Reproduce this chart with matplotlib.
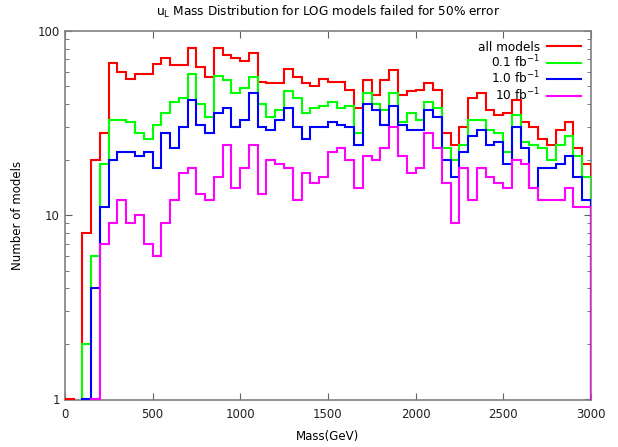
import numpy as np
import matplotlib
matplotlib.use("Agg")
import matplotlib.pyplot as plt
from matplotlib.ticker import LogLocator, NullFormatter, FixedLocator

# bin edges: 60 bins of 50 GeV from 0 to 3000
edges = np.arange(0, 3001, 50)

all_models = [1, 0, 8, 20, 28, 67, 60, 55, 58, 58,
              66, 71, 65, 65, 81, 64, 56, 81, 74, 71,
              69, 76, 53, 52, 52, 62, 56, 52, 50, 55,
              53, 53, 48, 38, 54, 45, 54, 61, 45, 47,
              48, 52, 48, 28, 24, 30, 43, 46, 37, 35,
              36, 42, 32, 30, 26, 24, 29, 32, 23, 19]

lumi_01 = [0, 0, 2, 6, 19, 33, 33, 32, 28, 26,
           31, 36, 41, 43, 58, 40, 34, 57, 54, 46,
           49, 56, 40, 34, 37, 47, 43, 36, 38, 39,
           41, 38, 39, 28, 46, 40, 37, 46, 32, 36,
           33, 41, 38, 23, 20, 24, 33, 33, 29, 28,
           22, 35, 25, 24, 23, 20, 24, 27, 21, 16]

lumi_1 = [0, 0, 1, 4, 11, 20, 22, 22, 21, 22,
          18, 28, 23, 30, 42, 31, 28, 36, 38, 30,
          33, 46, 30, 29, 33, 38, 30, 26, 30, 30,
          32, 31, 30, 24, 40, 37, 31, 39, 31, 29,
          29, 37, 34, 20, 16, 22, 27, 29, 24, 25,
          19, 30, 23, 14, 18, 18, 19, 21, 16, 12]

lumi_10 = [0, 0, 0, 1, 7, 9, 12, 9, 10, 7,
           6, 9, 12, 17, 18, 13, 12, 16, 24, 14,
           18, 24, 13, 20, 19, 18, 12, 17, 15, 16,
           22, 23, 20, 14, 21, 20, 23, 30, 21, 17,
           18, 28, 23, 15, 9, 18, 12, 18, 16, 15,
           14, 20, 19, 14, 12, 12, 12, 14, 11, 11]

labels = ["all models", "0.1 fb$^{-1}$", "1.0 fb$^{-1}$", "10 fb$^{-1}$"]
colors = ["#ff0000", "#00ff00", "#0000ff", "#ff00ff"]

fig = plt.figure(figsize=(6.18, 4.47), dpi=100)
ax = fig.add_axes([0.105, 0.105, 0.851, 0.826])
ax.set_yscale("log", nonpositive="clip")

for vals, lab, col in zip([all_models, lumi_01, lumi_1, lumi_10], labels, colors):
    v = np.array(vals, dtype=float)
    v[v <= 0] = 1e-3  # empty bins go below the axis
    ax.stairs(v, edges, baseline=1e-3, color=col, lw=1.5, label=lab, zorder=3)

ax.set_xlim(0, 3000)
ax.set_ylim(0.99, 100)  # tiny margin so bins with 1 entry stay visible
ax.xaxis.set_major_locator(FixedLocator([0, 500, 1000, 1500, 2000, 2500, 3000]))
ax.yaxis.set_major_locator(LogLocator(base=10))
ax.yaxis.set_minor_locator(LogLocator(base=10, subs=np.arange(2, 10)))
ax.yaxis.set_minor_formatter(NullFormatter())
ax.set_yticks([1, 10, 100])
ax.set_yticklabels(["1", "10", "100"])

ax.tick_params(which="both", direction="in", top=True, right=True,
               color="#606060", labelsize=8.5, labelcolor="#222222")
ax.tick_params(which="major", length=5)
ax.tick_params(which="minor", length=3)
ax.tick_params(axis="x", pad=6)
for s in ax.spines.values():
    s.set_color("#808080")
    s.set_linewidth(1.2)

ax.set_xlabel("Mass(GeV)", fontsize=8.5, labelpad=6)
ax.set_ylabel("Number of models", fontsize=8.5, labelpad=10)
ax.set_title("u$_\\mathregular{L}$ Mass Distribution for LOG models failed for 50% error",
             fontsize=8.7, pad=11)

leg = ax.legend(loc="upper right", frameon=False, markerfirst=False, fontsize=8.7,
                handlelength=2.8, labelspacing=0.0, borderaxespad=0.4,
                handletextpad=0.6)
for h in leg.get_lines():
    h.set_linewidth(1.5)

fig.savefig("out.png", dpi=100)
